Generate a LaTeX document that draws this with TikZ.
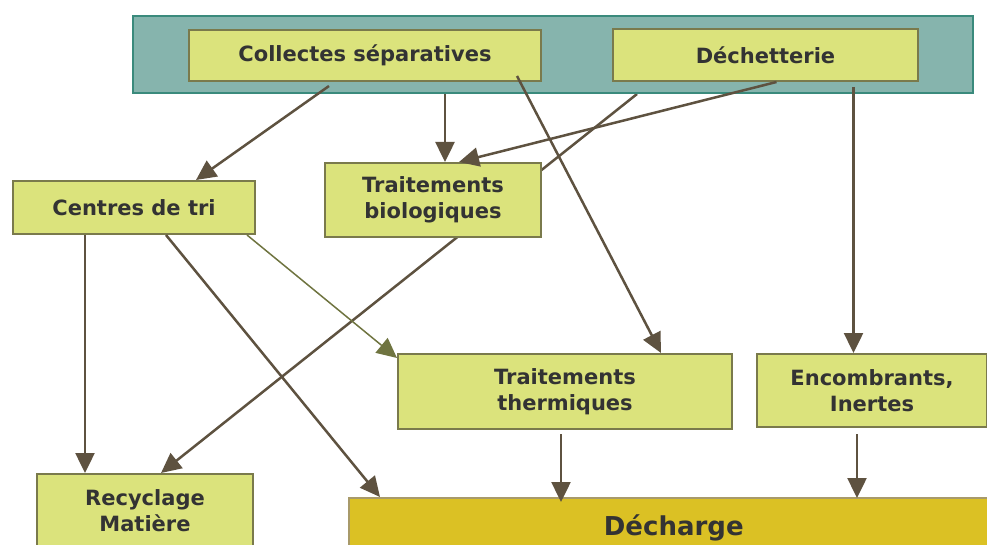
\documentclass[tikz,border=0pt]{standalone}
\usepackage{fontspec}
\setmainfont{DejaVu Sans}
\usetikzlibrary{positioning,arrows.meta,backgrounds}

\definecolor{tealfill}{HTML}{86B4AD}
\definecolor{tealline}{HTML}{3A8A7C}
\definecolor{boxfill}{HTML}{DBE37C}
\definecolor{boxline}{HTML}{7A7A4C}
\definecolor{dumpfill}{HTML}{DBC124}
\definecolor{dumpline}{HTML}{A89A6A}
\definecolor{txt}{HTML}{333333}
\definecolor{arrcol}{HTML}{5E5240}
\definecolor{thincol}{HTML}{6F7440}

\begin{document}
\begin{tikzpicture}[
    x=1pt, y=-1pt,
    font=\fontsize{21}{26}\selectfont\bfseries,
    box/.style={draw=boxline, fill=boxfill, line width=2pt, align=center,
                text=txt, inner sep=0pt, anchor=north west},
    arr/.style={-{Triangle[length=20pt,width=19pt]}, line width=2.5pt, arrcol},
    thinarr/.style={-{Triangle[length=20pt,width=19pt]}, line width=1.5pt, thincol}
  ]
  \useasboundingbox (0,0) rectangle (987,545);

  % ===== source frame =====
  \node[draw=tealline, fill=tealfill, line width=2pt, anchor=north west,
        minimum width=840pt, minimum height=77pt] (src) at (132,15) {};
  \node[box, minimum width=352pt, minimum height=51pt] (coll) at (188,29)
    {Collectes séparatives};
  \node[box, minimum width=305pt, minimum height=52pt] (dech) at (612,28)
    {Déchetterie};

  % ===== treatment boxes =====
  \node[box, minimum width=242pt, minimum height=53pt] (tri) at (12,180)
    {Centres de tri};
  \node[box, minimum width=216pt, minimum height=74pt] (bio) at (324,162)
    {Traitements\\biologiques};
  \node[box, minimum width=334pt, minimum height=75pt] (therm) at (397,353)
    {Traitements\\thermiques};
  \node[box, minimum width=230pt, minimum height=73pt] (enc) at (756,353)
    {Encombrants,\\Inertes};
  \node[box, minimum width=216pt, minimum height=74pt] (rec) at (36,473)
    {Recyclage\\Matière};

  % ===== landfill =====
  \node[draw=dumpline, fill=dumpfill, line width=1.5pt, text=txt,
        anchor=north west, minimum width=650pt, minimum height=60pt,
        font=\fontsize{26}{30}\selectfont\bfseries] (dump) at (348,497)
    {Décharge};

  % ===== start points of the vertical arrows =====
  \coordinate (srcbio) at ([xshift=-108pt]src.south);
  \coordinate (dechenc) at ([xshift=88pt,yshift=-5pt]dech.south);
  \coordinate (trirec) at ([xshift=-49pt]tri.south);
  \coordinate (thermdump) at ([xshift=-4pt,yshift=-4pt]therm.south);
  \coordinate (encdump) at ([xshift=-15pt,yshift=-6pt]enc.south);

  % ===== arrows =====
  \draw[arr] ([xshift=-36pt,yshift=-4pt]coll.south) -- ([xshift=62pt]tri.north);
  \draw[arr] (srcbio) -- (srcbio |- bio.north);
  \draw[arr] ([xshift=152pt,yshift=6pt]coll.south) -- ([xshift=96pt]therm.north);
  \draw[arr] ([xshift=11pt]dech.south) -- ([xshift=26pt]bio.north);
  \draw[arr] (dechenc) -- (dechenc |- enc.north);
  \draw[arr] (trirec) -- (trirec |- rec.north);
  \draw[arr] ([xshift=32pt]tri.south) -- ([xshift=32pt]dump.north west);
  \draw[thinarr] ([xshift=-9pt]tri.south east) -- ([yshift=-5pt]therm.north west);
  \draw[arr] (thermdump) -- ([yshift=-5pt]thermdump |- dump.north);
  \draw[arr] (encdump) -- ([yshift=-1pt]encdump |- dump.north);
  \begin{scope}[on background layer]
    \draw[arr] ([xshift=84pt]src.south) -- ([xshift=16pt]rec.north);
  \end{scope}

\end{tikzpicture}
\end{document}
